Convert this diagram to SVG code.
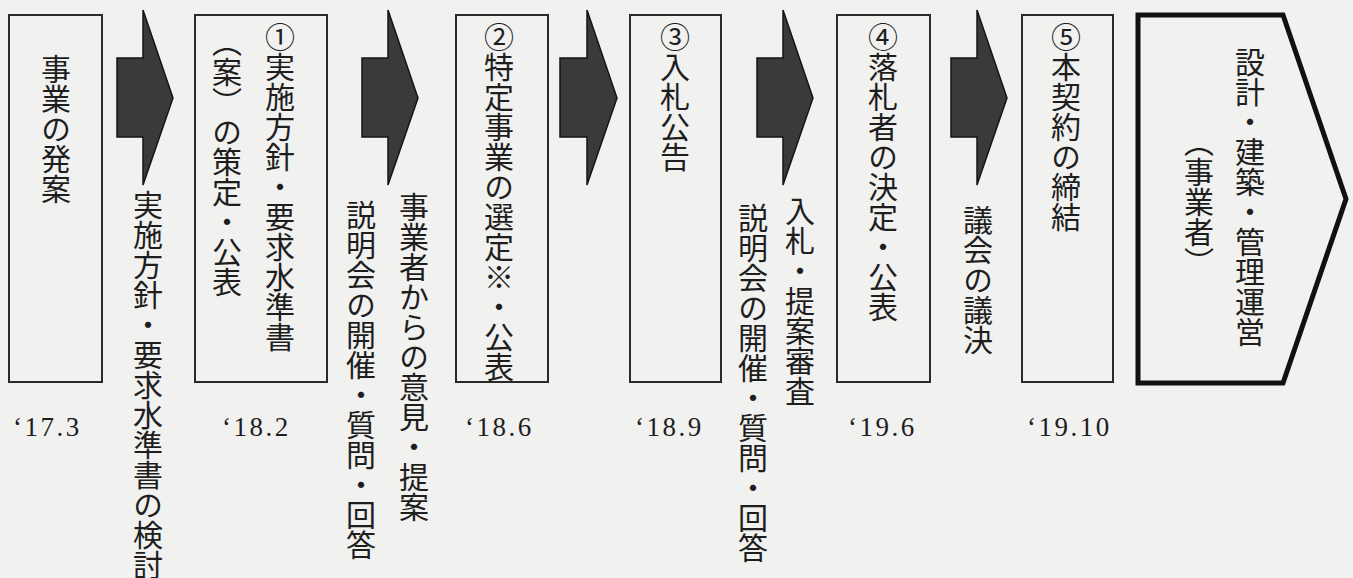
<svg xmlns="http://www.w3.org/2000/svg" width="1353" height="578" viewBox="0 0 1353 578">
<style>
.bg{fill:#f1f1f0}
.box{fill:none;stroke:#2a2a2a;stroke-width:2}
.pent{fill:none;stroke:#111;stroke-width:5;stroke-linejoin:miter}
.arr{fill:#3a3a3a;stroke:#151515;stroke-width:1.5}
.v{font-family:"Noto Sans CJK JP","Noto Sans CJK SC",sans-serif;font-size:30px;fill:#1e1e1e;writing-mode:vertical-rl}
.d{font-family:"Liberation Serif",serif;font-size:27px;fill:#1e1e1e;letter-spacing:2.5px}
</style>
<rect class="bg" x="0" y="0" width="1353" height="578"/>
<g id="connectors">
<polygon class="arr" points="117,58 143,58 143,10 173,98 143,185 143,137 117,137"/>
<polygon class="arr" points="362,58 388,58 388,10 418,98 388,185 388,137 362,137"/>
<polygon class="arr" points="560,58 587,58 587,10 617,98 587,185 587,137 560,137"/>
<polygon class="arr" points="757,58 783,58 783,10 813,98 783,185 783,137 757,137"/>
<polygon class="arr" points="951,58 977,58 977,10 1007,98 977,185 977,137 951,137"/>
<text class="v" x="148" y="190">実施方針・要求水準書の検討</text>
<text class="v" x="414" y="192">事業者からの意見・提案</text>
<text class="v" x="361" y="200">説明会の開催・質問・回答</text>
<text class="v" x="800" y="196">入札・提案審査</text>
<text class="v" x="753" y="203">説明会の開催・質問・回答</text>
<text class="v" x="978" y="205">議会の議決</text>
</g>
<g id="n1">
<rect class="box" x="9" y="15" width="93" height="367"/>
<text class="v" x="56" y="54">事業の発案</text>
<text class="d" x="13" y="436">‘17.3</text>
</g>
<g id="n2">
<rect class="box" x="195" y="15" width="132" height="367"/>
<text class="v" x="280" y="22">①実施方針・要求水準書</text>
<text class="v" x="227" y="27">（案）の策定・公表</text>
<text class="d" x="222" y="436">‘18.2</text>
</g>
<g id="n3">
<rect class="box" x="456" y="15" width="92" height="367"/>
<text class="v" x="499" y="22">②特定事業の選定※・公表</text>
<text class="d" x="465" y="436">‘18.6</text>
</g>
<g id="n4">
<rect class="box" x="630" y="15" width="91" height="367"/>
<text class="v" x="675" y="22">③入札公告</text>
<text class="d" x="635" y="436">‘18.9</text>
</g>
<g id="n5">
<rect class="box" x="837" y="15" width="93" height="367"/>
<text class="v" x="883" y="22">④落札者の決定・公表</text>
<text class="d" x="848" y="436">‘19.6</text>
</g>
<g id="n6">
<rect class="box" x="1022" y="15" width="91" height="367"/>
<text class="v" x="1066" y="22">⑤本契約の締結</text>
<text class="d" x="1027" y="436">‘19.10</text>
</g>
<g id="n7">
<polygon class="pent" points="1138,15 1283,15 1346,199 1283,383 1138,383"/>
<text class="v" x="1250" y="47">設計・建築・管理運営</text>
<text class="v" x="1199" y="127">（事業者）</text>
</g>
</svg>
